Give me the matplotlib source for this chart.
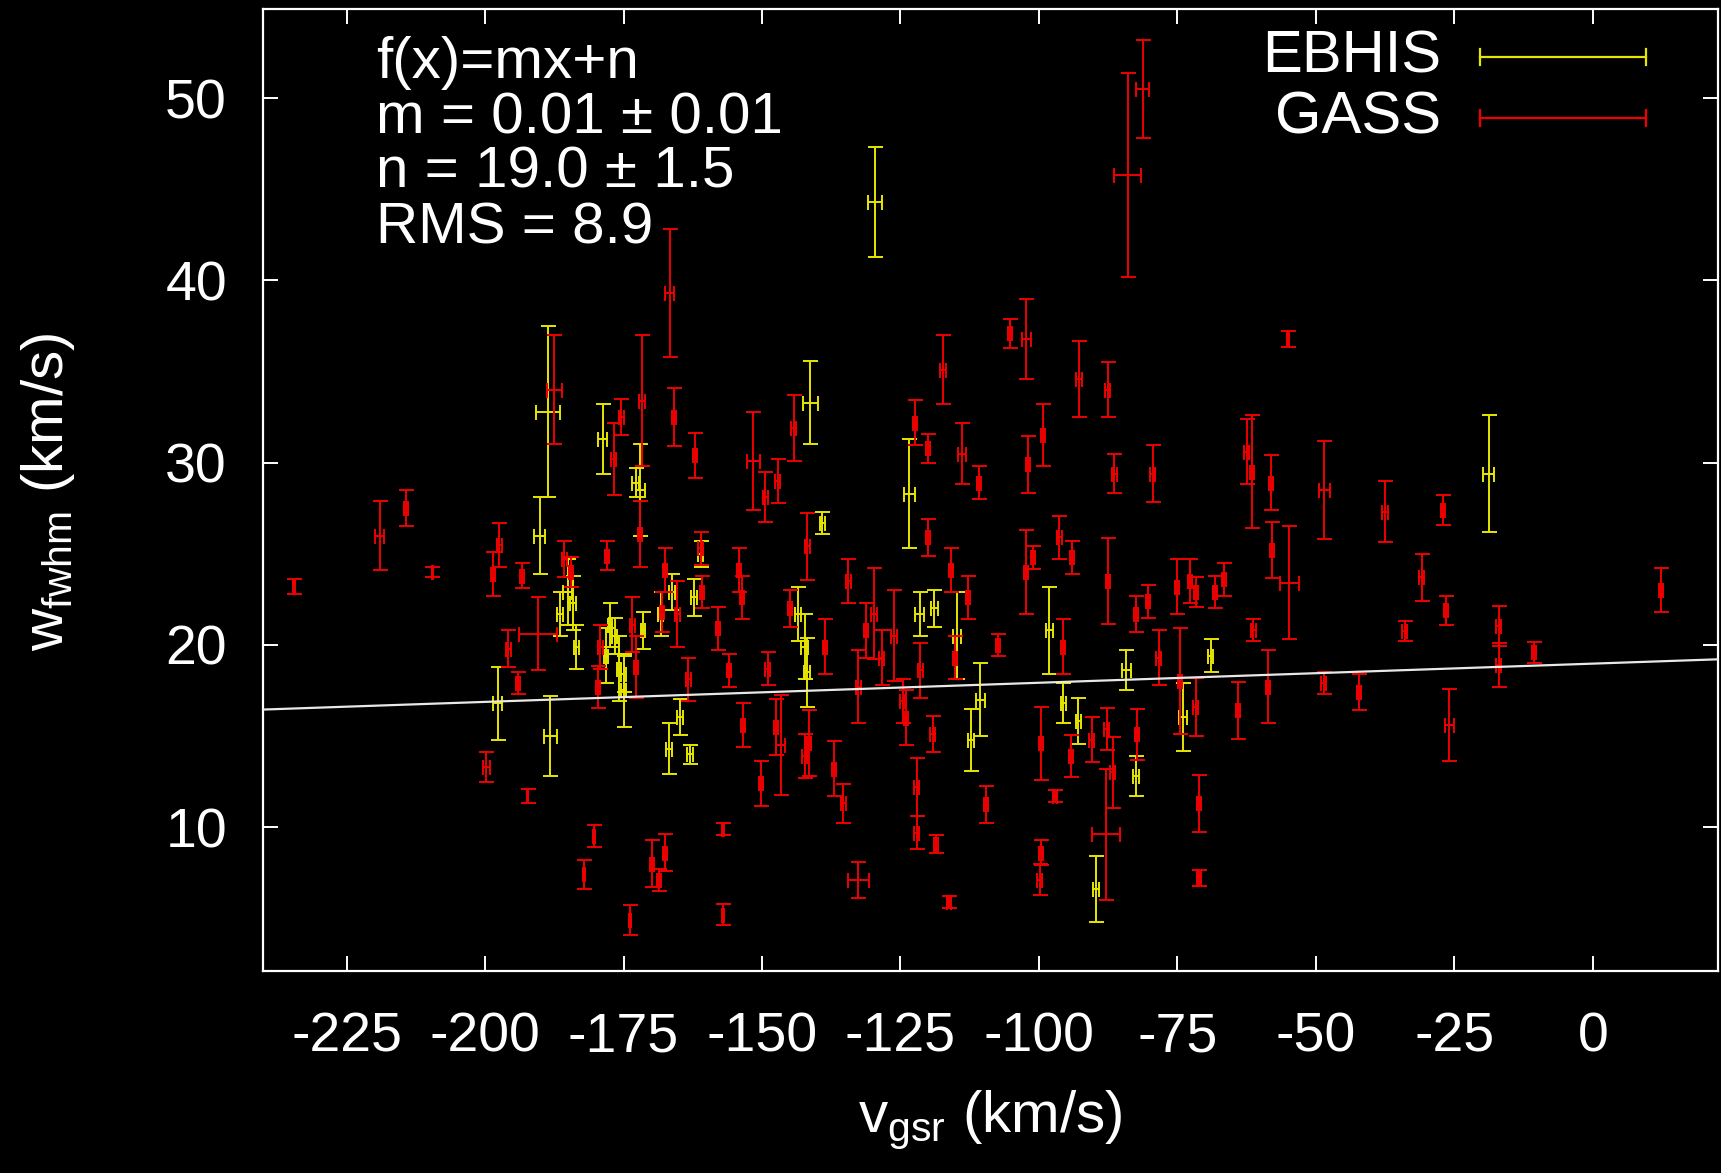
import matplotlib.pyplot as plt
import numpy as np

plt.rcParams['font.family'] = ['Liberation Sans', 'DejaVu Sans']
plt.rcParams['mathtext.default'] = 'regular'
plt.rcParams['axes.unicode_minus'] = False

# EBHIS (yellow)
ebhis_v = [-197.7, -190.1, -188.7, -188.2, -186.5, -185.1, -184.1, -183.5, -178.8, -178.2,
           -177.4, -176.6, -175.8, -175.0, -175.0, -172.0, -172.8, -171.5, -168.3, -166.8,
           -166.3, -164.8, -163.0, -162.3, -161.1, -143.5, -142.3, -141.9, -141.3, -139.1,
           -129.6, -123.4, -121.5, -118.9, -114.8, -112.3, -110.6, -98.1, -95.6, -92.9,
           -89.7, -84.2, -82.5, -74.0, -69.0, -18.8]
ebhis_w = [16.8, 26.0, 32.8, 15.0, 21.7, 22.9, 22.3, 19.9, 31.3, 19.4,
           21.1, 20.5, 18.7, 18.4, 17.5, 28.5, 28.9, 20.8, 21.7, 14.3,
           22.9, 16.05, 14.0, 22.6, 25.0, 21.7, 19.9, 18.5, 33.3, 26.7,
           44.3, 28.3, 21.7, 22.0, 20.5, 14.8, 17.0, 20.8, 16.8, 15.8,
           6.6, 18.6, 12.8, 16.05, 19.4, 29.4]
ebhis_werr = [2.0, 2.1, 4.7, 2.2, 1.2, 1.8, 1.5, 1.2, 1.9, 1.5,
              1.2, 1.0, 1.8, 1.0, 2.0, 2.5, 0.8, 1.0, 1.2, 1.4,
              1.0, 1.0, 0.52, 1.0, 0.7, 1.5, 1.8, 1.9, 2.3, 0.6,
              3.0, 3.0, 1.2, 1.0, 2.4, 1.7, 2.0, 2.4, 1.1, 1.26,
              1.8, 1.1, 1.1, 1.87, 0.9, 3.2]
ebhis_verr = [0.8, 1.0, 2.2, 1.2, 0.5, 0.8, 0.5, 0.5, 0.8, 0.4,
              0.4, 0.5, 0.4, 0.4, 0.4, 0.8, 0.6, 0.4, 0.5, 0.5,
              0.5, 0.5, 0.5, 0.5, 0.5, 0.5, 0.6, 0.5, 1.35, 0.5,
              1.2, 1.0, 0.8, 0.6, 0.8, 0.5, 0.8, 0.6, 0.5, 0.5,
              0.5, 0.8, 0.5, 0.8, 0.5, 1.0]

# GASS (red)
gass_v = [-234.5, -219.0, -214.3, -209.5, -199.8, -198.6, -197.4, -195.8, -194.1, -193.3,
          -192.3, -190.5, -187.5, -185.7, -184.5, -182.2, -180.4, -179.6, -179.2, -178.0,
          -176.8, -175.4, -173.8, -173.4, -172.8, -172.0, -171.7, -169.9, -167.5, -168.6,
          -168.1, -167.5, -166.7, -165.9, -165.3, -163.3, -162.1, -161.1, -160.8, -158.0,
          -157.0, -157.0, -156.0, -154.2, -153.6, -153.4, -151.6, -150.2, -149.4, -149.0,
          -147.2, -147.5, -146.6, -144.9, -144.3, -142.3, -141.8, -141.5, -138.6, -137.0,
          -135.3, -134.4, -132.6, -132.6, -131.2, -129.8, -128.4, -126.2, -124.6, -124.0,
          -122.4, -122.1, -122.1, -121.4, -120.0, -120.0, -118.6, -119.2, -117.3, -116.2,
          -115.9, -115.2, -113.9, -112.8, -110.8, -109.6, -107.4, -105.2, -102.3, -102.0,
          -102.3, -99.9, -99.6, -99.3, -97.1, -96.3, -95.7, -94.2, -94.0, -92.8,
          -90.5, -87.9, -87.6, -87.5, -86.4, -86.7, -84.0, -82.5, -81.3, -80.3,
          -79.5, -78.4, -75.1, -74.5, -72.7, -71.6, -71.1, -71.1, -68.2, -66.6,
          -64.1, -62.5, -61.5, -61.3, -58.1, -57.9, -58.6, -55.1, -54.8, -48.5,
          -48.6, -42.2, -37.5, -34.0, -30.9, -27.1, -26.5, -25.9, -17.0, -17.0,
          -10.6, 12.3, -101.1, -99.6, -87.8, -82.3, -71.7]
gass_w = [23.2, 26.0, 27.5, 24.0, 13.3, 23.9, 25.5, 19.8, 17.9, 23.8,
          11.7, 20.6, 34.0, 24.7, 24.0, 7.4, 9.5, 17.7, 19.9, 24.9,
          30.2, 32.5, 4.9, 21.1, 18.8, 26.1, 33.4, 8.0, 8.6, 7.1,
          21.8, 24.1, 39.3, 32.5, 21.7, 18.1, 30.4, 25.3, 22.9, 20.9,
          9.9, 5.2, 18.6, 24.1, 22.6, 15.6, 30.1, 12.4, 28.1, 18.7,
          29.0, 15.5, 14.5, 22.0, 31.9, 13.9, 25.4, 14.6, 19.9, 13.2,
          11.3, 23.5, 17.7, 7.1, 20.8, 21.7, 19.3, 20.5, 16.9, 16.0,
          32.2, 12.2, 9.7, 18.6, 25.9, 30.8, 9.05, 15.1, 35.1, 5.9,
          24.1, 19.3, 30.5, 22.6, 28.9, 11.25, 20.0, 37.1, 36.8, 29.9,
          24.0, 7.1, 14.6, 31.5, 11.7, 25.9, 19.9, 13.9, 24.8, 34.6,
          14.8, 9.6, 34.0, 23.5, 29.4, 13.0, 45.8, 21.7, 50.5, 22.4,
          29.4, 19.3, 23.2, 18.0, 23.5, 22.9, 11.3, 7.2, 22.9, 23.6,
          16.4, 30.6, 29.5, 20.8, 28.9, 25.2, 17.7, 36.8, 23.4, 28.5,
          17.9, 17.4, 27.3, 20.75, 23.7, 27.4, 21.9, 15.6, 21.06, 18.9,
          19.6, 23.0, 24.8, 8.6, 15.4, 15.1, 16.6]
gass_werr = [0.4, 1.9, 1.0, 0.3, 0.8, 1.2, 1.2, 1.0, 0.6, 0.7,
             0.4, 2.0, 3.0, 1.0, 0.8, 0.8, 0.6, 1.15, 1.2, 0.8,
             2.0, 1.0, 0.8, 1.5, 1.7, 1.8, 3.6, 1.3, 1.0, 0.6,
             1.1, 1.2, 3.5, 1.6, 1.8, 1.2, 1.25, 0.9, 0.9, 1.2,
             0.35, 0.55, 0.9, 1.2, 1.2, 1.2, 2.7, 1.25, 1.37, 0.9,
             1.2, 1.55, 2.76, 1.0, 1.8, 1.2, 1.86, 1.8, 1.5, 1.5,
             1.06, 1.2, 2.0, 1.0, 1.5, 2.5, 1.5, 2.5, 1.2, 1.5,
             1.22, 1.6, 0.9, 1.5, 1.0, 0.8, 0.5, 1.0, 1.9, 0.32,
             1.2, 1.2, 1.65, 1.2, 0.9, 1.0, 0.6, 0.8, 2.2, 1.56,
             2.3, 0.85, 2.0, 1.7, 0.32, 1.2, 1.5, 1.16, 0.9, 2.1,
             1.23, 3.6, 1.5, 2.38, 1.07, 1.95, 5.6, 1.0, 2.7, 0.9,
             1.55, 1.5, 1.5, 2.9, 1.2, 0.8, 1.57, 0.46, 0.9, 0.9,
             1.58, 1.78, 3.1, 0.6, 1.5, 1.54, 2.0, 0.44, 3.1, 2.7,
             0.6, 1.0, 1.68, 0.55, 1.3, 0.8, 0.8, 1.97, 1.1, 1.2,
             0.58, 1.2, 0.64, 0.7, 1.15, 1.4, 1.6]
gass_verr = [0.1, 0.8, 0.4, 0.1, 0.6, 0.4, 0.4, 0.4, 0.4, 0.4,
             0.1, 3.4, 1.3, 0.4, 0.4, 0.2, 0.2, 0.4, 0.4, 0.4,
             0.4, 0.4, 0.2, 0.4, 0.4, 0.4, 0.5, 0.4, 0.4, 0.4,
             0.4, 0.4, 0.8, 0.4, 0.4, 0.4, 0.4, 0.4, 0.4, 0.4,
             0.2, 0.2, 0.4, 0.4, 0.4, 0.4, 1.2, 0.4, 0.4, 0.4,
             0.4, 0.4, 0.8, 0.4, 0.5, 0.4, 0.4, 0.4, 0.4, 0.4,
             0.4, 0.4, 0.4, 1.9, 0.4, 0.5, 0.4, 0.5, 0.4, 0.4,
             0.4, 0.4, 0.4, 0.4, 0.4, 0.4, 0.4, 0.4, 0.5, 0.4,
             0.4, 0.4, 0.8, 0.4, 0.4, 0.4, 0.4, 0.4, 0.8, 0.4,
             0.4, 0.4, 0.4, 0.4, 0.4, 0.4, 0.4, 0.4, 0.4, 0.5,
             0.4, 2.6, 0.4, 0.4, 0.5, 0.4, 2.4, 0.4, 1.2, 0.4,
             0.5, 0.4, 0.4, 0.4, 0.4, 0.4, 0.4, 0.4, 0.4, 0.4,
             0.4, 0.5, 0.4, 0.4, 0.4, 0.4, 0.4, 0.2, 1.7, 1.0,
             0.4, 0.4, 0.5, 0.4, 0.4, 0.4, 0.4, 0.8, 0.4, 0.4,
             0.4, 0.4, 0.4, 0.4, 0.4, 0.4, 0.4]

# fit f(x) = m x + n
fit_m = 0.0105
fit_n = 18.97

xlim = (-240.1, 22.6)
ylim = (2.1, 54.9)

fig = plt.figure(figsize=(17.21, 11.73), dpi=100, facecolor='black')
ax = fig.add_axes([263 / 1721, 1 - 971 / 1173, 1455 / 1721, 962 / 1173])
ax.set_facecolor('black')

yellow = '#e6e600'
red = '#ee0000'
eb = dict(fmt='none', capsize=5.4, elinewidth=1.4, capthick=1.4)
ax.errorbar(ebhis_v, ebhis_w, yerr=ebhis_werr, xerr=ebhis_verr, ecolor=yellow, zorder=2, **eb)
ax.errorbar(gass_v, gass_w, yerr=gass_werr, xerr=gass_verr, ecolor=red, zorder=3, **eb)

xf = np.array(xlim)
ax.plot(xf, fit_m * xf + fit_n, color='#e8e8e8', lw=1.6, zorder=4)

ax.set_xlim(*xlim)
ax.set_ylim(*ylim)
ax.set_xticks(range(-225, 1, 25))
ax.set_yticks(range(10, 51, 10))
ax.tick_params(direction='in', length=11, width=1.4, colors='white', labelsize=40,
               top=True, right=True)
ax.tick_params(axis='x', pad=29)
ax.tick_params(axis='y', pad=26)
for s in ax.spines.values():
    s.set_color('white')
    s.set_linewidth(1.6)

fig.text(990 / 1721, 1 - 1120 / 1173, r'v$_{gsr}$ (km/s)', color='white', fontsize=42,
         ha='center', va='center')
fig.text(48 / 1721, 1 - 492 / 1173, r'w$_{fwhm}$ (km/s)', color='white', fontsize=42,
         ha='center', va='center', rotation=90)

lines = ['f(x)=mx+n', 'm = 0.01 ± 0.01', 'n = 19.0 ± 1.5', 'RMS = 8.9']
for i, t in enumerate(lines):
    fig.text(376 / 1721, 1 - (63 + 55 * i) / 1173, t, color='white', fontsize=42,
             ha='left', va='center')

# legend in gnuplot style
for i, (lab, col) in enumerate([('EBHIS', yellow), ('GASS', red)]):
    yy = 1 - (57 + 61 * i) / 1173
    fig.text(1441 / 1721, yy, lab, color='white', fontsize=43, ha='right', va='center')
    x0, x1 = 1480 / 1721, 1646 / 1721
    h = 8 / 1173
    fig.lines.append(plt.Line2D([x0, x1], [yy, yy], color=col, lw=1.6, transform=fig.transFigure))
    for xc in (x0, x1):
        fig.lines.append(plt.Line2D([xc, xc], [yy - h, yy + h], color=col, lw=1.6,
                                    transform=fig.transFigure))

fig.savefig('out.png', dpi=100, facecolor='black')
